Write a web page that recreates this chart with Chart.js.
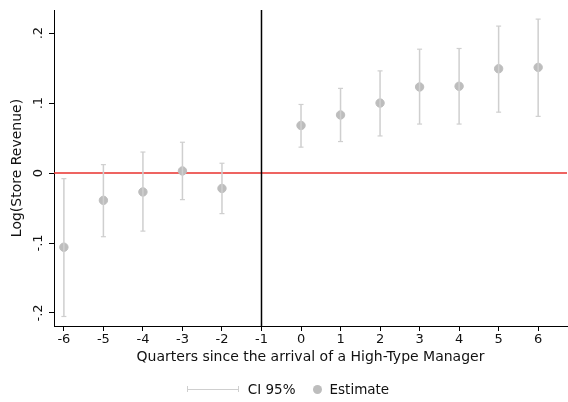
<!DOCTYPE html>
<html>
<head>
<meta charset="utf-8">
<script src="https://cdn.jsdelivr.net/npm/chart.js@4"></script>
<style>
  body { margin: 0; background: #fff; }
  #wrap { position: relative; width: 568px; height: 402px; }
  #legend { position: absolute; left: 4px; width: 568px; top: 381px; display: flex; justify-content: center; align-items: center;
            font: 13.5px "DejaVu Sans", sans-serif; color: #111; }
  .ci { width: 50px; height: 6px; border-left: 1px solid #cfcfcf; border-right: 1px solid #cfcfcf; position: relative; margin-right: 9px; }
  .ci::after { content: ""; position: absolute; left: 0; right: 0; top: 2.5px; border-top: 1.5px solid #cfcfcf; }
  .dot { width: 9px; height: 9px; border-radius: 50%; background: #bdbdbd; margin: 0 8px 0 17px; }
</style>
</head>
<body>
<div id="wrap">
  <canvas id="c" width="568" height="402"></canvas>
  <div id="legend"><span class="ci"></span>CI 95%<span class="dot"></span>Estimate</div>
</div>
<script>
// 四半期（イベント時点）
const quarters = [-6, -5, -4, -3, -2, 0, 1, 2, 3, 4, 5, 6];
// 推定値と95%信頼区間
const estimate = [-0.106, -0.039, -0.027, 0.003, -0.022, 0.068, 0.083, 0.100, 0.123, 0.124, 0.149, 0.151];
const ciLow    = [-0.205, -0.091, -0.083, -0.038, -0.058, 0.037, 0.045, 0.053, 0.070, 0.070, 0.087, 0.081];
const ciHigh   = [-0.008, 0.012, 0.030, 0.044, 0.014, 0.098, 0.121, 0.146, 0.177, 0.178, 0.210, 0.220];
const xTicks = [-6, -5, -4, -3, -2, -1, 0, 1, 2, 3, 4, 5, 6];
const yTicks = [-0.2, -0.1, 0, 0.1, 0.2];
const refX = -1;
const refY = 0;

// 区間を縦線として描く（null で区切る）
const ciData = [];
quarters.forEach((q, i) => {
  ciData.push({ x: q, y: ciLow[i] }, { x: q, y: ciHigh[i] }, { x: q, y: null });
});

function fmt(v) {
  if (Math.abs(v) < 1e-9) return '0';
  return (v < 0 ? '-' : '') + String(Math.abs(Math.round(v * 10) / 10)).replace(/^0/, '');
}

const refLines = {
  id: 'refLines',
  beforeDatasetsDraw(chart) {
    const { ctx, chartArea: a, scales: { x, y } } = chart;
    ctx.save();
    ctx.lineWidth = 1.5;
    ctx.strokeStyle = '#e8302d';
    const py = y.getPixelForValue(refY);
    ctx.beginPath(); ctx.moveTo(a.left, py); ctx.lineTo(a.right, py); ctx.stroke();
    ctx.strokeStyle = '#000';
    const px = x.getPixelForValue(refX);
    ctx.beginPath(); ctx.moveTo(px, a.top); ctx.lineTo(px, a.bottom); ctx.stroke();
    ctx.restore();
  }
};

const font = { family: '"DejaVu Sans", sans-serif', size: 13 };

new Chart(document.getElementById('c'), {
  type: 'scatter',
  data: {
    datasets: [
      { label: 'CI 95%', data: ciData, showLine: true, spanGaps: false,
        borderColor: '#cfcfcf', borderWidth: 1.5, pointStyle: 'line', pointRadius: 2.5,
        pointBorderColor: '#cfcfcf', pointBorderWidth: 1.2 },
      { label: 'Estimate', data: quarters.map((q, i) => ({ x: q, y: estimate[i] })),
        backgroundColor: '#bdbdbd', borderColor: '#bdbdbd', pointRadius: 4.2 }
    ]
  },
  options: {
    responsive: false,
    animation: false,
    layout: { autoPadding: false, padding: { top: 10, right: 1, bottom: 36, left: 0 } },
    plugins: { legend: { display: false }, tooltip: { enabled: false } },
    scales: {
      x: {
        type: 'linear', min: -6.25, max: 6.73,
        afterBuildTicks: s => { s.ticks = xTicks.map(v => ({ value: v })); },
        afterFit: s => { s.height = 40; s.paddingLeft = 0; s.paddingRight = 0; },
        grid: { display: true, drawOnChartArea: false, drawTicks: true, tickLength: 5, color: '#000', lineWidth: 1 },
        border: { display: true, color: '#000', width: 1 },
        ticks: { font, color: '#111', padding: 1, maxRotation: 0, callback: v => String(v) },
        title: { display: true, text: 'Quarters since the arrival of a High-Type Manager',
                 font: { family: '"DejaVu Sans", sans-serif', size: 14 }, color: '#111', padding: { top: 2, bottom: 0 } }
      },
      y: {
        type: 'linear', min: -0.2186, max: 0.233,
        afterBuildTicks: s => { s.ticks = yTicks.map(v => ({ value: v })); },
        afterFit: s => { s.width = 54; s.paddingTop = 0; s.paddingBottom = 0; },
        grid: { display: true, drawOnChartArea: false, drawTicks: true, tickLength: 5, color: '#000', lineWidth: 1 },
        border: { display: true, color: '#000', width: 1 },
        ticks: { font, color: '#111', padding: 2, minRotation: 90, maxRotation: 90, crossAlign: 'center', callback: v => fmt(v) },
        title: { display: true, text: 'Log(Store Revenue)',
                 font: { family: '"DejaVu Sans", sans-serif', size: 14 }, color: '#111', padding: { top: 9, bottom: 0 } }
      }
    }
  },
  plugins: [refLines]
});
</script>
</body>
</html>
